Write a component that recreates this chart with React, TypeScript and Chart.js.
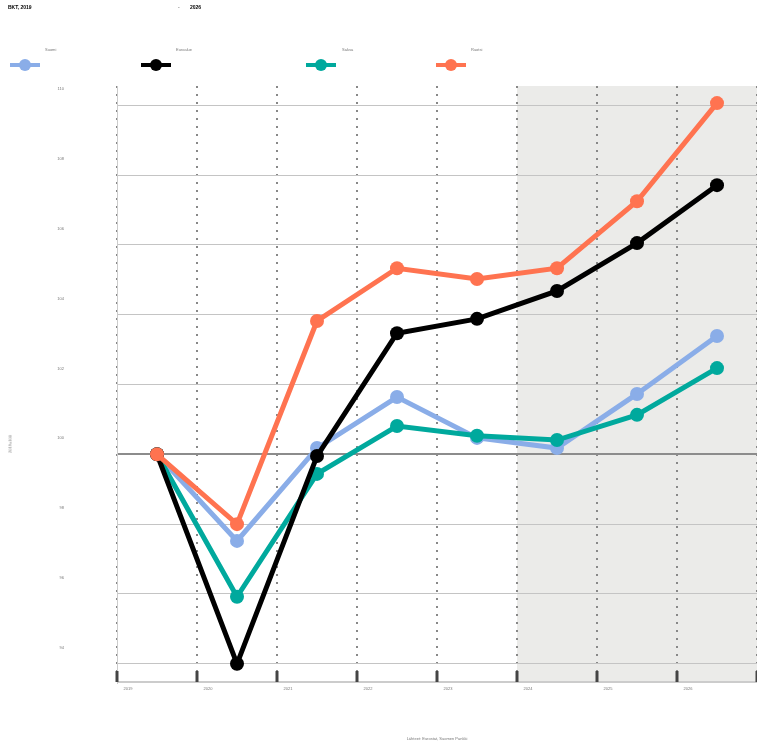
import React, { useEffect, useRef } from "react";
import { Chart, registerables } from "chart.js";

Chart.register(...registerables);

const years = ["2019", "2020", "2021", "2022", "2023", "2024", "2025", "2026"];
const suomi = [100, 97.52, 100.18, 101.64, 100.47, 100.18, 101.73, 103.39];
const euroalue = [100, 94.0, 99.95, 103.47, 103.88, 104.68, 106.05, 107.71];
const saksa = [100, 95.92, 99.44, 100.81, 100.53, 100.41, 101.13, 102.47];
const ruotsi = [100, 98.0, 103.82, 105.33, 105.02, 105.33, 107.25, 110.06];
const forecastStart = 5; // index of 2024

const seriesNames = ["Suomi", "Euroalue", "Saksa", "Ruotsi"];
const seriesColors = ["#8AADE8", "#000000", "#00A99D", "#FF7350"];
const seriesData = [suomi, euroalue, saksa, ruotsi];
const seriesOrder = [4, 2, 3, 1];

const titleLeft = "BKT, 2019";
const titleDash = "-";
const titleRight = "2026";
const yTitle = "2019=100";
const caption = "Lähteet: Eurostat, Suomen Pankki";

const FONT = "'Liberation Sans', Arial, sans-serif";

const legendPos = [
  { sym: 10, label: 45 },
  { sym: 141, label: 176 },
  { sym: 306, label: 342 },
  { sym: 436, label: 471 },
];

const bgPlugin = {
  id: "bgShade",
  beforeDraw(chart: any) {
    const { ctx, chartArea, scales } = chart;
    const x = scales.x;
    const half = (x.getPixelForValue(1) - x.getPixelForValue(0)) / 2;
    const left = x.getPixelForValue(forecastStart) - half;
    ctx.save();
    ctx.fillStyle = "#EBEBE9";
    ctx.fillRect(left, chartArea.top, chartArea.right - left, chartArea.bottom - chartArea.top);
    ctx.restore();
  },
  afterDraw(chart: any) {
    const { ctx, chartArea, scales } = chart;
    const x = scales.x;
    const half = (x.getPixelForValue(1) - x.getPixelForValue(0)) / 2;
    ctx.save();
    ctx.strokeStyle = "#CCCCCC";
    ctx.lineWidth = 2;
    ctx.beginPath();
    ctx.moveTo(chartArea.left, chartArea.bottom - 1);
    ctx.lineTo(chartArea.right, chartArea.bottom - 1);
    ctx.stroke();
    ctx.strokeStyle = "#444";
    ctx.lineWidth = 3;
    for (let i = 0; i <= years.length; i++) {
      const px = x.getPixelForValue(i) - half;
      ctx.beginPath();
      ctx.moveTo(px, chartArea.bottom - 12);
      ctx.lineTo(px, chartArea.bottom - 1);
      ctx.stroke();
    }
    ctx.restore();
  },
};

export default function App() {
  const ref = useRef<HTMLCanvasElement | null>(null);

  useEffect(() => {
    if (!ref.current) return;
    const chart = new Chart(ref.current, {
      type: "line",
      data: {
        labels: years,
        datasets: seriesNames.map((name, i) => ({
          label: name,
          data: seriesData[i],
          borderColor: seriesColors[i],
          backgroundColor: seriesColors[i],
          borderWidth: 5,
          pointRadius: 7,
          pointBorderWidth: 0,
          pointBackgroundColor: seriesColors[i],
          tension: 0,
          order: seriesOrder[i],
        })),
      },
      options: {
        responsive: false,
        animation: false,
        layout: { autoPadding: false, padding: { top: 86, left: 0, right: 0, bottom: 0 } },
        plugins: {
          legend: { display: false },
          tooltip: { enabled: false },
          title: { display: false },
        },
        scales: {
          x: {
            type: "category",
            offset: true,
            afterFit: (s: any) => {
              s.height = 59;
              s.paddingLeft = 0;
              s.paddingRight = 0;
            },
            grid: {
              offset: true,
              color: "#888",
              lineWidth: 2,
              drawTicks: false,
            },
            border: { display: false, dash: [2, 6] },
            ticks: {
              font: { family: FONT, size: 4 },
              color: "#777",
              padding: 3,
              labelOffset: -29,
              maxRotation: 0,
            },
          },
          y: {
            min: 93.45,
            max: 110.55,
            afterFit: (s: any) => {
              s.width = 117;
              s.paddingTop = 0;
              s.paddingBottom = 0;
            },
            grid: {
              color: (c: any) => (c.tick && c.tick.value === 100 ? "#8C8C8C" : "#C4C4C4"),
              lineWidth: (c: any) => (c.tick && c.tick.value === 100 ? 2 : 1),
              drawTicks: false,
            },
            border: { display: true, color: "#CCCCCC", width: 1 },
            ticks: {
              stepSize: 2,
              includeBounds: false,
              font: { family: FONT, size: 4 },
              color: "#777",
              padding: 53,
              labelOffset: -16,
            },
          },
        },
      },
      plugins: [bgPlugin],
    });
    return () => chart.destroy();
  }, []);

  const small: React.CSSProperties = {
    position: "absolute",
    fontFamily: FONT,
    fontSize: 4,
    color: "#777",
    whiteSpace: "nowrap",
    lineHeight: "5px",
  };

  return (
    <div style={{ position: "absolute", left: 0, top: 0, width: 757, height: 742, background: "#fff" }}>
      <canvas ref={ref} width={757} height={742} style={{ position: "absolute", left: 0, top: 0 }} />
      <div style={{ ...small, left: 8, top: 5, fontWeight: "bold", color: "#000", fontSize: 5 }}>{titleLeft}</div>
      <div style={{ ...small, left: 178, top: 5, color: "#555", fontSize: 5 }}>{titleDash}</div>
      <div style={{ ...small, left: 190, top: 5, fontWeight: "bold", color: "#000", fontSize: 5 }}>{titleRight}</div>
      {seriesNames.map((name, i) => (
        <React.Fragment key={name}>
          <div style={{ ...small, left: legendPos[i].label, top: 47 }}>{name}</div>
          <div
            style={{
              position: "absolute",
              left: legendPos[i].sym,
              top: 63,
              width: 30,
              height: 4,
              background: seriesColors[i],
            }}
          />
          <div
            style={{
              position: "absolute",
              left: legendPos[i].sym + 9,
              top: 59,
              width: 12,
              height: 12,
              borderRadius: 6,
              background: seriesColors[i],
            }}
          />
        </React.Fragment>
      ))}
      <div
        style={{
          ...small,
          left: 10,
          top: 444,
          transform: "translate(-50%, -50%) rotate(-90deg)",
        }}
      >
        {yTitle}
      </div>
      <div style={{ ...small, left: 437, top: 736, transform: "translateX(-50%)" }}>{caption}</div>
    </div>
  );
}
